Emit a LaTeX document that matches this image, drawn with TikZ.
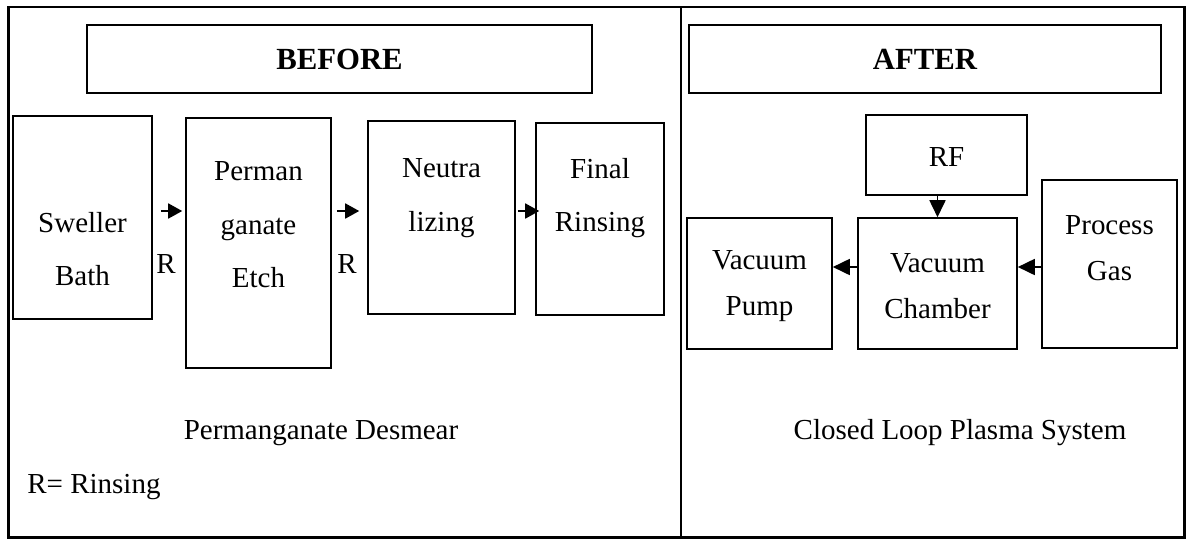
\documentclass[tikz,border=0pt]{standalone}
\usepackage{fontspec}
\setmainfont{Liberation Serif}
\usetikzlibrary{arrows.meta,positioning,calc,fit}
\tikzset{
  headbox/.style={draw, line width=1.2pt, inner sep=0pt},
  stepbox/.style={draw, line width=0.9pt, inner sep=0pt},
  headtxt/.style={font=\fontsize{17.5}{20}\selectfont\bfseries, inner sep=0pt},
  steptxt/.style={align=center, font=\fontsize{16.5}{30.5}\selectfont, inner sep=0pt},
  plasmatxt/.style={align=center, font=\fontsize{16.5}{26.5}\selectfont, inner sep=0pt},
  arr/.style={-{Triangle[length=2.8mm,width=3mm]}, line width=1pt},
  parr/.style={-{Triangle[length=3.4mm,width=3.2mm]}, line width=1pt}}
\begin{document}
\begin{tikzpicture}[x=0.02cm, y=-0.02cm]
    \useasboundingbox (0,0) rectangle (1186,538);
    % frame and divider
    \draw[line width=1.7pt] (8.5,7) rectangle (1184.5,537);
    \draw[line width=1.1pt] (681,7) -- (681,537);
    % headers
    \node[headbox, fit={(87,25) (592,93)}] (before) {};
    \node[headbox, fit={(689,25) (1161,93)}] (after) {};
    \node[headtxt] (beforetxt) at (before.center) {BEFORE};
    \node[headtxt] (aftertxt) at (after.center) {AFTER};
    % permanganate desmear steps
    \node[stepbox, fit={(13,116) (152,319)}] (sweller) {};
    \node[stepbox, fit={(186,118) (331,368)}] (perman) {};
    \node[stepbox, fit={(368,121) (515,314)}] (neutra) {};
    \node[stepbox, fit={(536,123) (664,315)}] (final) {};
    \node[steptxt] (swellertxt) at (82.5,249) {Sweller\\Bath};
    \node[steptxt] (permantxt) at (258.5,225) {Perman\\ganate\\Etch};
    \node[steptxt] (neutratxt) at (441.5,198) {Neutra\\lizing};
    \node[steptxt] (finaltxt) at (600,198) {Final\\Rinsing};
    \coordinate (row) at (0,211);
    \draw[arr, shorten <=0.16cm, shorten >=0.06cm] (sweller.east |- row) -- (perman.west |- row);
    \draw[arr, shorten <=0.1cm, shorten >=0.16cm] (perman.east |- row) -- (neutra.west |- row);
    \draw[arr, shorten <=0.04cm, shorten >=-0.08cm] (neutra.east |- row) -- (final.west |- row);
    \node[steptxt] (r1) at (166,264) {R};
    \node[steptxt] (r2) at (347,264) {R};
    % plasma system
    \node[stepbox, fit={(866,115) (1027,195)}] (rf) {};
    \node[stepbox, fit={(687,218) (832,349)}] (pump) {};
    \node[stepbox, fit={(858,218) (1017,349)}] (chamber) {};
    \node[stepbox, fit={(1042,180) (1177,348)}] (gas) {};
    \node[plasmatxt] (rftxt) at (946.5,157) {RF};
    \node[plasmatxt] (pumptxt) at (759.5,286) {Vacuum\\Pump};
    \node[plasmatxt] (chambertxt) at (937.5,286) {Vacuum\\Chamber};
    \node[plasmatxt] (gastxt) at (1109.5,248) {Process\\Gas};
    \coordinate (prow) at (0,267);
    \draw[parr] (chamber.north |- rf.south) -- (chamber.north);
    \draw[parr] (chamber.west |- prow) -- (pump.east |- prow);
    \draw[parr] (gas.west |- prow) -- (chamber.east |- prow);
    % captions
    \node[steptxt] (desmear) at (321,433) {Permanganate Desmear};
    \node[steptxt] (plasma) at (960,433) {Closed Loop Plasma System};
    \node[steptxt, anchor=west] (legend) at (27,487) {R= Rinsing};
  \end{tikzpicture}
\end{document}
